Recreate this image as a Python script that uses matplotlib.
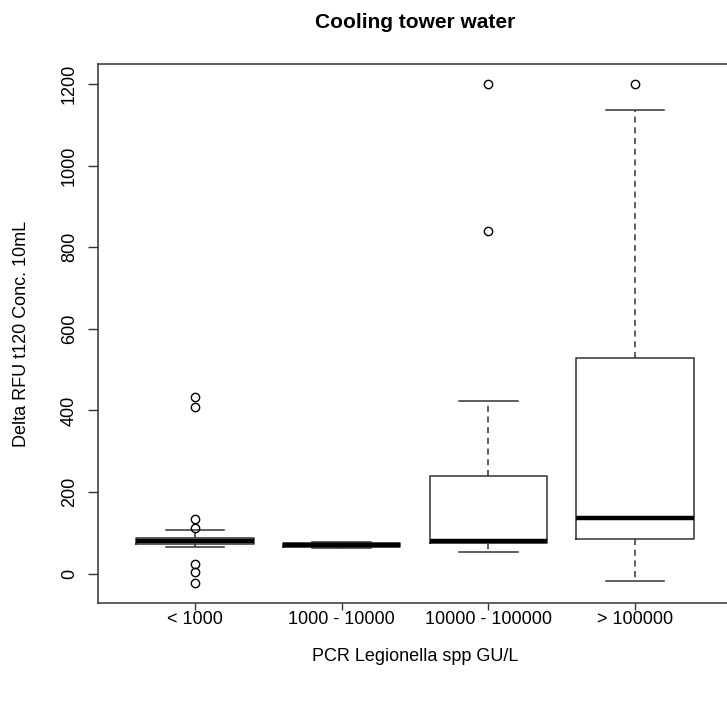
import matplotlib
matplotlib.use("Agg")
import matplotlib.pyplot as plt

plt.rcParams.update({
    "font.family": ["Liberation Sans", "DejaVu Sans"],
    "font.size": 13,
})

groups = ["< 1000", "1000 - 10000", "10000 - 100000", "> 100000"]
whislo = [65, 64, 54, -18]
q1     = [72, 66, 74, 86]
med    = [80, 71, 80, 137]
q3     = [88, 75, 239, 528]
whishi = [106, 78, 424, 1136]
fliers = [
    [434, 408, 134, 113, 23, 3, -22],
    [],
    [1200, 839],
    [1199],
]

stats = [
    {"label": g, "whislo": lo, "q1": a, "med": m, "q3": b, "whishi": hi, "fliers": f}
    for g, lo, a, m, b, hi, f in zip(groups, whislo, q1, med, q3, whishi, fliers)
]

fig = plt.figure(figsize=(7.27, 7.01), dpi=100)
ax = fig.add_axes([98 / 727, 98 / 701, 634 / 727, 539 / 701])

EDGE = "#333333"
ax.bxp(
    stats, positions=range(1, 5), widths=0.8, showfliers=True,
    boxprops=dict(color=EDGE, lw=1.1),
    medianprops=dict(color="black", lw=3.2, solid_capstyle="butt"),
    whiskerprops=dict(color=EDGE, lw=1.1, ls=(0, (4, 3))),
    capprops=dict(color=EDGE, lw=1.1),
    capwidths=0.4,
    flierprops=dict(marker="o", markerfacecolor="none", markeredgecolor="black",
                    markersize=6, markeredgewidth=1.0),
)

ax.set_xlim(0.34, 4.66)
ax.set_ylim(-72, 1249)
ax.set_yticks(range(0, 1201, 200))
ax.set_yticklabels([str(v) for v in range(0, 1201, 200)], rotation=90, va="center")
ax.set_xticks(range(1, 5))
ax.set_xticklabels(groups)
ax.tick_params(width=1, color=EDGE)
ax.tick_params(axis="x", length=5, pad=1)
ax.tick_params(axis="y", length=7.5, pad=7)
for s in ax.spines.values():
    s.set_color(EDGE)
    s.set_linewidth(1.1)

ax.set_title("Cooling tower water", fontsize=15, weight="bold", pad=26)
ax.set_xlabel("PCR Legionella spp GU/L", labelpad=14)
ax.set_ylabel("Delta RFU t120 Conc. 10mL", labelpad=22)

fig.savefig("out.png", dpi=100)
